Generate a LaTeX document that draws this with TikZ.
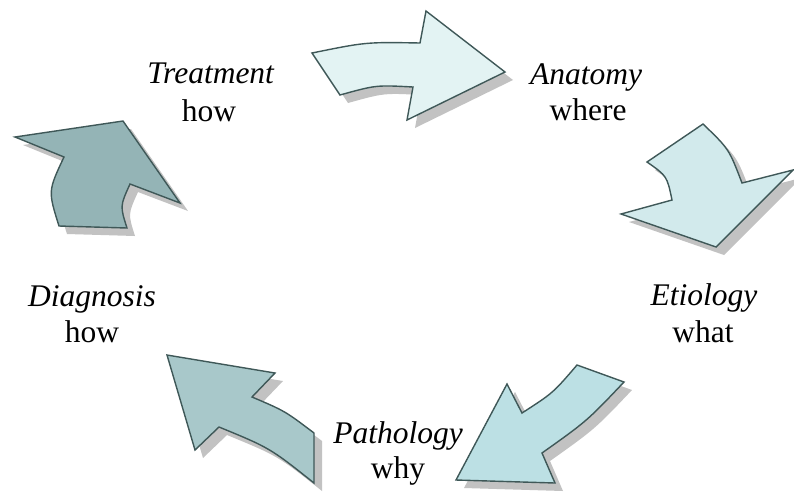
\documentclass[tikz,border=0pt]{standalone}
\usepackage{fontspec}
\setmainfont{Liberation Serif}
\definecolor{edgecol}{HTML}{3F5858}
\definecolor{shadowcol}{HTML}{C2C2C2}
\definecolor{fillA}{HTML}{E3F3F3}
\definecolor{fillB}{HTML}{D2EAEC}
\definecolor{fillC}{HTML}{BCE0E4}
\definecolor{fillD}{HTML}{A8C8CA}
\definecolor{fillE}{HTML}{94B4B6}
\tikzset{
  arrowbody/.style={draw=edgecol, line width=1.4pt, line join=miter},
  arrowshadow/.style={fill=shadowcol, draw=none, shift={(8,8)}},
  lbl/.style={font=\fontsize{31.5}{36}\selectfont, anchor=base, inner sep=0pt}
}
\begin{document}
\begin{tikzpicture}[x=1pt,y=-1pt]
\useasboundingbox (0,0) rectangle (794,491);
% shapes
\def\arrA{(312,53) .. controls (366,42) .. (420,43) -- (426,11) -- (505,72) -- (407,120) -- (413,87) .. controls (376,85) .. (340,95) -- cycle}
\def\arrB{(647,162) -- (703,124) .. controls (729,149) .. (742,183) -- (793,170) -- (716,247) -- (621,214) -- (672,200) .. controls (667,176) .. (647,162) -- cycle}
\def\arrC{(577,365) -- (624,382) .. controls (587,421) .. (542,453) -- (555,483) -- (456,480) -- (507,384) -- (522,413) .. controls (553,393) .. (577,365) -- cycle}
\def\arrD{(167,355) -- (275,373) -- (252,397) .. controls (285,411) .. (314,433) -- (314,483) .. controls (270,448) .. (219,427) -- (195,450) -- cycle}
\def\arrE{(15,137) -- (123,121) -- (180,203) -- (130,184) .. controls (120,206) .. (127,228) -- (59,226) .. controls (48,191) .. (64,157) -- cycle}
% shadows
\fill[arrowshadow] \arrA;
\fill[arrowshadow] \arrB;
\fill[arrowshadow] \arrC;
\fill[arrowshadow] \arrD;
\fill[arrowshadow] \arrE;
% arrows
\filldraw[arrowbody, fill=fillA] \arrA;
\filldraw[arrowbody, fill=fillB] \arrB;
\filldraw[arrowbody, fill=fillC] \arrC;
\filldraw[arrowbody, fill=fillD] \arrD;
\filldraw[arrowbody, fill=fillE] \arrE;
% labels
\node[lbl] (treat) at (211,83) {\textit{Treatment}};
\node[lbl] (treathow) at (209,121) {how};
\node[lbl] (anat) at (586,84) {\textit{Anatomy}};
\node[lbl] (anatwhere) at (588,120) {where};
\node[lbl] (etio) at (704,305) {\textit{Etiology}};
\node[lbl] (etiowhat) at (703,342) {what};
\node[lbl] (path) at (398,443) {\textit{Pathology}};
\node[lbl] (pathwhy) at (398,478) {why};
\node[lbl] (diag) at (92,306) {\textit{Diagnosis}};
\node[lbl] (diaghow) at (92,342) {how};
\end{tikzpicture}
\end{document}
